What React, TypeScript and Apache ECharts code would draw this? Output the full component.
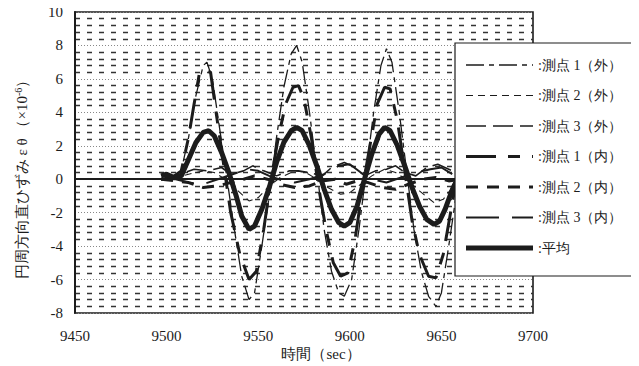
import React, { useEffect, useRef } from "react";
import * as echarts from "echarts";

// ---- data (time [sec], strain [×10^-6]) ----
const xTicks = [9450, 9500, 9550, 9600, 9650, 9700];
const yTicks = [-8, -6, -4, -2, 0, 2, 4, 6, 8, 10];

const seriesNames = [
  "測点 1（外）",
  "測点 2（外）",
  "測点 3（外）",
  "測点 1（内）",
  "測点 2（内）",
  "測点 3（内）",
  "平均",
];

const p1out: [number, number][] = [
  [9497, 0], [9503, 0], [9508, 0.5], [9512, 2.5], [9516, 5.0], [9520, 6.8], [9522, 7.0],
  [9525, 6.0], [9529, 3.0], [9533, 0.0], [9537, -3.0], [9541, -5.8], [9545, -7.2],
  [9548, -6.8], [9552, -4.0], [9556, -1.0], [9560, 2.5], [9564, 5.5], [9568, 7.5],
  [9571, 8.0], [9574, 7.0], [9578, 4.0], [9582, 0.5], [9586, -3.0], [9590, -5.5],
  [9594, -6.8], [9597, -7.0], [9601, -6.0], [9605, -3.0], [9609, 0.5], [9613, 4.0],
  [9617, 6.8], [9620, 7.8], [9623, 7.0], [9627, 4.0], [9631, 0.5], [9635, -3.0],
  [9639, -5.5], [9643, -7.0], [9647, -7.6], [9650, -6.8], [9654, -4.0], [9658, -1.0],
  [9662, 1.5],
];

const p2out: [number, number][] = [
  [9497, 0], [9505, 0.1], [9512, 0.3], [9520, 0.5], [9526, 0.4], [9532, 0.0],
  [9538, -0.6], [9545, -1.3], [9550, -1.1], [9556, -0.4], [9562, 0.1], [9570, 0.5],
  [9576, 0.4], [9582, 0.0], [9588, -0.5], [9595, -0.9], [9600, -0.8], [9606, -0.3],
  [9612, 0.2], [9619, 0.6], [9625, 0.4], [9632, -0.1], [9638, -0.7], [9646, -1.4],
  [9651, -1.2], [9656, -0.5], [9660, 0],
];

const p3out: [number, number][] = [
  [9497, 0], [9505, 0.2], [9515, 0.6], [9522, 0.5], [9530, 0.7], [9535, 0.3],
  [9542, 0.5], [9547, 0.8], [9553, 0.5], [9560, 0.2], [9567, 0.5], [9572, 0.5],
  [9578, 0.4], [9585, 0.2], [9590, 0.7], [9597, 1.0], [9603, 0.7], [9608, 0.2],
  [9614, 0.5], [9620, 0.6], [9625, 0.8], [9630, 0.4], [9636, 0.2], [9642, 0.7],
  [9648, 0.9], [9654, 0.6], [9660, 0.3],
];

const p1in: [number, number][] = [
  [9497, 0], [9503, 0.1], [9508, 0.5], [9512, 2.5], [9515, 4.5], [9518, 6.4],
  [9521, 6.5], [9524, 6.4], [9527, 4.0], [9531, 1.0], [9535, -2.0], [9540, -4.5],
  [9545, -6.0], [9549, -5.5], [9553, -3.0], [9557, 0.0], [9561, 2.5], [9565, 4.5],
  [9569, 5.5], [9572, 5.6], [9575, 4.8], [9579, 2.5], [9583, -0.5], [9587, -3.0],
  [9591, -5.0], [9595, -5.8], [9599, -5.6], [9603, -3.5], [9607, -0.5], [9611, 2.0],
  [9615, 4.5], [9619, 5.5], [9622, 5.4], [9626, 3.5], [9630, 0.5], [9634, -2.5],
  [9638, -4.5], [9643, -5.8], [9647, -5.9], [9651, -4.5], [9655, -2.0], [9659, 0.5],
];

const p2in: [number, number][] = [
  [9497, 0], [9505, -0.1], [9512, -0.2], [9520, -0.5], [9528, -0.4], [9535, -0.2],
  [9542, 0.0], [9548, 0.2], [9555, 0.0], [9562, -0.3], [9570, -0.5], [9578, -0.4],
  [9585, -0.1], [9592, 0.0], [9598, -0.3], [9604, -0.1], [9610, -0.2], [9618, -0.5],
  [9625, -0.6], [9632, -0.3], [9640, 0.0], [9647, 0.1], [9654, -0.1], [9660, 0],
];

const p3in: [number, number][] = [
  [9497, 0], [9505, 0], [9512, -0.2], [9520, -0.3], [9528, 0.0], [9536, 0.3],
  [9544, 0.6], [9550, 0.5], [9556, 0.2], [9564, -0.1], [9570, -0.2], [9578, 0.0],
  [9586, 0.3], [9594, 0.8], [9600, 0.9], [9606, 0.4], [9612, 0.0], [9620, -0.2],
  [9628, 0.1], [9636, 0.4], [9644, 0.6], [9650, 0.7], [9656, 0.3], [9660, 0],
];

const mean: [number, number][] = [
  [9497, 0.2], [9500, 0.3], [9504, 0.1], [9508, 0.2], [9512, 1.2], [9516, 2.2],
  [9520, 2.8], [9523, 2.9], [9526, 2.6], [9530, 1.6], [9534, 0.4], [9538, -1.0],
  [9541, -2.2], [9545, -3.0], [9548, -2.8], [9552, -1.8], [9556, -0.5], [9560, 1.0],
  [9564, 2.2], [9568, 2.9], [9571, 3.1], [9574, 2.9], [9578, 2.0], [9582, 0.8],
  [9586, -0.6], [9590, -1.8], [9594, -2.6], [9597, -2.8], [9600, -2.6], [9604, -1.6],
  [9608, 0.0], [9612, 1.5], [9616, 2.7], [9619, 3.1], [9622, 2.9], [9626, 2.0],
  [9630, 0.8], [9634, -0.5], [9638, -1.6], [9642, -2.4], [9646, -2.7], [9649, -2.5],
  [9652, -1.8], [9656, -0.6], [9660, 0.3],
];

const seriesData = [p1out, p2out, p3out, p1in, p2in, p3in, mean];

const INK = "#1c1c1c";
const lineStyles: { width: number; dash: number[] | null }[] = [
  { width: 1.3, dash: [18, 5, 5, 5] },
  { width: 1.1, dash: [7, 5] },
  { width: 1.6, dash: [20, 7] },
  { width: 3, dash: [30, 12, 12, 12] },
  { width: 3, dash: [12, 9] },
  { width: 2, dash: [33, 13] },
  { width: 5, dash: null },
];

const FONT = "Liberation Serif";

export default function App() {
  const ref = useRef<HTMLDivElement>(null);
  useEffect(() => {
    if (!ref.current) return;
    const chart = echarts.init(ref.current, null, { renderer: "svg" });
    const series: any[] = seriesNames.map((name, i) => ({
      name,
      type: "line",
      data: seriesData[i],
      symbol: "none",
      showSymbol: false,
      smooth: false,
      lineStyle: {
        color: INK,
        width: lineStyles[i].width,
        type: (lineStyles[i].dash || "solid") as any,
      },
      itemStyle: { color: INK },
      z: i === 6 ? 4 : 3,
    }));
    series[6].markLine = {
      silent: true,
      symbol: "none",
      label: { show: false },
      lineStyle: { color: INK, type: "solid", width: 1 },
      data: [{ yAxis: 0 }],
      z: 1,
    };

    // custom legend box (drawn with graphic so that line widths are kept)
    const LX = 455, LY = 43, LW = 181, LH = 233;
    const rowY0 = 65, rowGap = 30.5;
    const legendEls: any[] = [
      {
        type: "rect",
        shape: { x: LX, y: LY, width: LW, height: LH },
        style: { fill: "#fff", stroke: INK, lineWidth: 1.2 },
        z: 100,
      },
    ];
    seriesNames.forEach((name, i) => {
      const y = rowY0 + i * rowGap;
      legendEls.push({
        type: "line",
        shape: { x1: LX + 11, y1: y, x2: LX + 78, y2: y },
        style: {
          stroke: INK,
          lineWidth: lineStyles[i].width,
          lineDash: lineStyles[i].dash || undefined,
        },
        z: 101,
      });
      legendEls.push({
        type: "text",
        x: LX + 83,
        y,
        style: {
          text: ":" + name,
          fontSize: 14,
          fontFamily: FONT,
          fill: INK,
          verticalAlign: "middle",
          align: "left",
        },
        z: 101,
      });
    });

    chart.setOption({
      animation: false,
      backgroundColor: "#fff",
      grid: {
        left: 75,
        right: 106,
        top: 12,
        bottom: 53,
        show: true,
        borderColor: INK,
        borderWidth: 1.6,
        backgroundColor: "transparent",
      },
      xAxis: {
        type: "value",
        min: xTicks[0],
        max: xTicks[xTicks.length - 1],
        interval: 50,
        axisLine: { show: true, lineStyle: { color: INK, width: 2 } },
        axisTick: { show: false },
        splitLine: { show: false },
        axisLabel: {
          color: INK,
          fontSize: 15,
          fontFamily: FONT,
          margin: 15,
          formatter: (v: number) => String(v),
        },
      },
      yAxis: {
        type: "value",
        min: yTicks[0],
        max: yTicks[yTicks.length - 1],
        interval: 2,
        axisLine: { show: true, lineStyle: { color: INK, width: 2 } },
        axisTick: { show: false },
        axisLabel: { color: INK, fontSize: 15, fontFamily: FONT, margin: 12 },
        splitLine: { show: true, lineStyle: { color: "#888", type: [1, 2], width: 1 } },
        minorTick: { show: false, splitNumber: 5 },
        minorSplitLine: { show: true, lineStyle: { color: "#333", type: [5, 7], width: 1.4 } },
      },
      graphic: [
        {
          type: "text",
          x: 22,
          y: 176,
          rotation: Math.PI / 2,
          style: {
            text: "{a|円周方向直ひずみ ε θ （×10}{s|-6}{a|）}",
            align: "center",
            verticalAlign: "middle",
            fill: INK,
            rich: {
              a: { fontSize: 15, fontFamily: FONT, fill: INK },
              s: { fontSize: 10, fontFamily: FONT, fill: INK, verticalAlign: "top", padding: [0, 0, 8, 0] },
            },
          },
        },
        {
          type: "text",
          x: 321,
          y: 354,
          style: {
            text: "時間（sec）",
            align: "center",
            verticalAlign: "middle",
            fontSize: 15,
            fontFamily: FONT,
            fill: INK,
          },
        },
        ...legendEls,
      ],
      series,
    });
    return () => chart.dispose();
  }, []);
  return <div ref={ref} style={{ width: 639, height: 366, marginLeft: -8, marginTop: -8 }} />;
}
